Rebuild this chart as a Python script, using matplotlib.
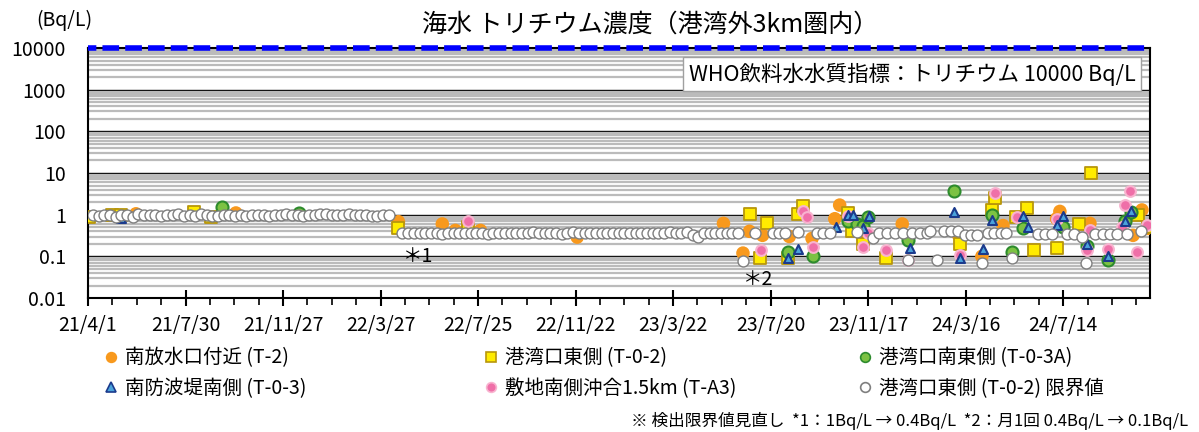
import matplotlib
matplotlib.use('Agg')
import matplotlib.pyplot as plt
from matplotlib.lines import Line2D
from matplotlib.ticker import LogLocator, MultipleLocator, NullFormatter

plt.rcParams['font.family'] = ['Noto Sans CJK JP', 'DejaVu Sans']

# x values are days counted from 2021/4/1
date_labels = ['21/4/1', '21/7/30', '21/11/27', '22/3/27', '22/7/25', '22/11/22',
               '23/3/22', '23/7/20', '23/11/17', '24/3/16', '24/7/14']
y_ticks = [0.01, 0.1, 1, 10, 100, 1000, 10000]
y_labels = ['0.01', '0.1', '1', '10', '100', '1000', '10000']
who_limit = 10000

# 南放水口付近 (T-2)
t2_days = [59, 182, 382, 436, 452, 483, 602, 782, 806, 814, 830, 863, 891, 919, 925,
           954, 1002, 1070, 1100, 1126, 1192, 1196, 1233, 1286, 1297, 1304]
t2_vals = [1.05, 1.1, 0.68, 0.6, 0.42, 0.42, 0.29, 0.62, 0.12, 0.4, 0.32, 0.3, 0.27, 0.8, 1.7,
           0.27, 0.6, 0.35, 0.1, 0.55, 0.8, 1.2, 0.62, 0.32, 1.3, 0.47]

# 港湾口東側 (T-0-2)
t02_days = [1, 30, 40, 130, 151, 382, 468, 815, 827, 835, 861, 874, 880, 935, 940, 954,
            982, 1073, 1113, 1116, 1142, 1156, 1164, 1192, 1219, 1234, 1292, 1305]
t02_vals = [0.9, 1.0, 1.0, 1.15, 0.9, 0.49, 0.5, 1.05, 0.09, 0.65, 0.09, 1.05, 1.6, 1.1, 0.4, 0.2,
            0.09, 0.2, 1.3, 2.5, 0.88, 1.45, 0.14, 0.16, 0.6, 10, 1.0, 0.5]

# 港湾口南東側 (T-0-3A)
t03a_days = [165, 260, 861, 892, 935, 946, 954, 960, 1009, 1066, 1112, 1137, 1151, 1200,
             1229, 1255, 1276, 1283]
t03a_vals = [1.5, 1.1, 0.13, 0.1, 0.7, 0.6, 0.55, 0.9, 0.25, 3.8, 1.0, 0.13, 0.47, 0.52,
             0.18, 0.08, 0.7, 1.15]

# 南防波堤南側 (T-0-3)
t03_days = [40, 861, 874, 920, 935, 942, 954, 961, 1011, 1066, 1073, 1101, 1113, 1151, 1157,
            1192, 1200, 1229, 1255, 1276, 1283]
t03_vals = [0.85, 0.09, 0.15, 0.5, 1.0, 1.0, 0.47, 0.95, 0.16, 1.15, 0.09, 0.15, 0.75, 0.93, 0.5,
            0.58, 0.93, 0.2, 0.1, 0.7, 1.2]

# 敷地南側沖合1.5km (T-A3)
ta3_days = [468, 828, 880, 885, 892, 935, 954, 960, 982, 1009, 1073, 1116, 1143, 1192,
            1229, 1233, 1255, 1272, 1276, 1282, 1291, 1303]
ta3_vals = [0.72, 0.14, 1.2, 0.9, 0.17, 0.92, 0.17, 0.37, 0.14, 0.08, 0.11, 3.3, 0.88, 0.8,
            0.14, 0.42, 0.15, 0.5, 1.7, 3.7, 0.13, 0.56]

# 港湾口東側 (T-0-2) 限界値
lim_days = [6, 13, 20, 27, 34, 41, 48, 55, 62, 69,
            76, 83, 90, 97, 104, 111, 118, 125, 132, 139,
            146, 153, 160, 167, 174, 181, 188, 195, 202, 209,
            216, 223, 230, 237, 244, 251, 258, 265, 272, 279,
            286, 293, 300, 307, 314, 321, 328, 335, 342, 349,
            356, 363, 370,
            387, 394, 401, 408, 415, 422, 429, 436, 443, 450,
            457, 464, 471, 478, 485, 492, 499, 506, 513, 520,
            527, 534, 541, 548, 555, 562, 569, 576, 583, 590,
            597, 604, 611, 618, 625, 632, 639, 646, 653, 660,
            667, 674, 681, 688, 695, 702, 709, 716, 723, 730,
            737, 744, 751, 758, 765, 772, 779, 786, 793, 800,
            806, 821, 843, 850, 858, 874, 897, 904, 913, 946,
            966, 974, 983, 993, 1003, 1009, 1014, 1024, 1032, 1036,
            1045, 1053, 1062, 1071, 1079, 1087, 1094, 1100, 1107, 1115,
            1123, 1130, 1137, 1169, 1178, 1186, 1205, 1213, 1223, 1228,
            1239, 1249, 1258, 1266, 1278, 1296]
lim_vals = [1.0, 0.95, 1.0, 1.0, 0.9, 1.0, 1.0, 0.9, 1.05, 1.0,
            1.0, 1.0, 0.95, 1.0, 1.0, 1.05, 0.95, 1.0, 0.95, 1.05,
            1.0, 0.95, 0.95, 1.0, 1.0, 0.95, 1.0, 0.95, 1.0, 1.0,
            1.0, 0.95, 1.0, 1.0, 1.05, 1.0, 1.0, 0.95, 1.0, 1.0,
            1.05, 1.05, 1.0, 1.0, 1.0, 1.05, 1.0, 1.0, 1.0, 0.95,
            0.95, 1.0, 1.0,
            0.37, 0.37, 0.37, 0.37, 0.37, 0.37, 0.37, 0.35, 0.37, 0.37,
            0.37, 0.37, 0.37, 0.37, 0.37, 0.35, 0.37, 0.37, 0.37, 0.37,
            0.37, 0.37, 0.37, 0.39, 0.37, 0.37, 0.37, 0.37, 0.35, 0.37,
            0.39, 0.37, 0.37, 0.37, 0.37, 0.37, 0.37, 0.37, 0.37, 0.37,
            0.37, 0.37, 0.37, 0.37, 0.37, 0.37, 0.37, 0.39, 0.37, 0.37,
            0.39, 0.33, 0.3, 0.37, 0.37, 0.37, 0.37, 0.37, 0.37, 0.37,
            0.077, 0.37, 0.37, 0.37, 0.37, 0.38, 0.37, 0.37, 0.37, 0.38,
            0.27, 0.37, 0.37, 0.37, 0.37, 0.08, 0.37, 0.37, 0.37, 0.4,
            0.08, 0.4, 0.4, 0.4, 0.32, 0.32, 0.32, 0.07, 0.36, 0.36,
            0.36, 0.36, 0.09, 0.35, 0.35, 0.35, 0.35, 0.35, 0.3, 0.07,
            0.35, 0.35, 0.35, 0.35, 0.35, 0.4]

fig = plt.figure(figsize=(11.99, 4.32), dpi=100)
ax = fig.add_axes([0.0734, 0.310, 0.8858, 0.579])

ax.set_yscale('log')
ax.set_ylim(0.01, 10000)
ax.set_xlim(0, 1307)

# gridlines: black decades, gray minor lines
ax.yaxis.set_minor_locator(LogLocator(base=10, subs=range(2, 10)))
ax.yaxis.set_minor_formatter(NullFormatter())
ax.grid(which='minor', axis='y', color='#BBBBBB', lw=1.6, zorder=0)
ax.grid(which='major', axis='y', color='black', lw=1.0, zorder=0)
ax.set_axisbelow(True)

ax.set_yticks(y_ticks, y_labels)
ax.tick_params(axis='y', which='both', length=0, pad=16, labelsize=14)
ax.set_xticks(range(0, 120 * len(date_labels), 120), date_labels)
ax.xaxis.set_minor_locator(MultipleLocator(30))
ax.tick_params(axis='x', which='major', direction='inout', length=12, width=1.5,
               pad=6, labelsize=14)
ax.tick_params(axis='x', which='minor', direction='out', length=5, width=1.2)
for s in ax.spines.values():
    s.set_linewidth(1.5)

ax.axhline(who_limit, color='#0000FF', lw=4, ls=(1.5, (3.0, 1.1)), zorder=5, clip_on=False)

c_or = '#F8991D'
ax.scatter(t2_days, t2_vals, s=95, c=c_or, edgecolors='none', zorder=3)
ax.scatter(t02_days, t02_vals, s=75, marker='s', c='#FFEB00', edgecolors='#B8960C', lw=1.3, zorder=3)
ax.scatter(t03a_days, t03a_vals, s=75, c='#7CC243', edgecolors='#2D8B2D', lw=1.5, zorder=3)
ax.scatter(ta3_days, ta3_vals, s=60, c='#EF6FA8', edgecolors='#F8B3CF', lw=1.5, zorder=3)
ax.scatter(t03_days, t03_vals, s=42, marker='^', c='#4BA3DB', edgecolors='#1B3A8C', lw=1.5, zorder=3)
ax.scatter(lim_days, lim_vals, s=62, c='white', edgecolors='#7F7F7F', lw=1.0, zorder=4)

ax.text(0.776, 0.896, 'WHO飲料水水質指標：トリチウム 10000 Bq/L', transform=ax.transAxes,
        ha='center', va='center', fontsize=15.5, zorder=6,
        bbox=dict(boxstyle='square,pad=0.25', fc='white', ec='#A0A0A0', lw=1))
ax.text(388, 0.1, '＊1', ha='left', va='center', fontsize=14, zorder=6)
ax.text(806, 0.0285, '＊2', ha='left', va='center', fontsize=14, zorder=6)

fig.text(0.542, 0.942, '海水 トリチウム濃度（港湾外3km圏内）', ha='center', va='center', fontsize=18)
fig.text(0.054, 0.953, '(Bq/L)', ha='center', va='center', fontsize=14)


def handle(marker, fc, ec, size=7):
    return Line2D([], [], ls='none', marker=marker, ms=size, mfc=fc, mec=ec, mew=1.2)


columns = [
    (0.086, [handle('o', c_or, c_or), handle('^', '#4BA3DB', '#1B3A8C')],
     ['南放水口付近 (T-2)', '南防波堤南側 (T-0-3)']),
    (0.403, [handle('s', '#FFEB00', '#B8960C'), handle('o', '#EF6FA8', '#F8B3CF')],
     ['港湾口東側 (T-0-2)', '敷地南側沖合1.5km (T-A3)']),
    (0.715, [handle('o', '#7CC243', '#2D8B2D'), handle('o', 'white', '#7F7F7F')],
     ['港湾口南東側 (T-0-3A)', '港湾口東側 (T-0-2) 限界値']),
]
for x0, hs, labels in columns:
    fig.legend(hs, labels, loc='upper left', bbox_to_anchor=(x0, 0.196), frameon=False,
               fontsize=14, handlelength=0.8, handletextpad=0.3, labelspacing=0.5,
               borderpad=0, borderaxespad=0)

fig.text(0.991, 0.026, '※ 検出限界値見直し  *1：1Bq/L → 0.4Bq/L  *2：月1回 0.4Bq/L → 0.1Bq/L',
         ha='right', va='center', fontsize=12)

fig.savefig('out.png', dpi=100)
